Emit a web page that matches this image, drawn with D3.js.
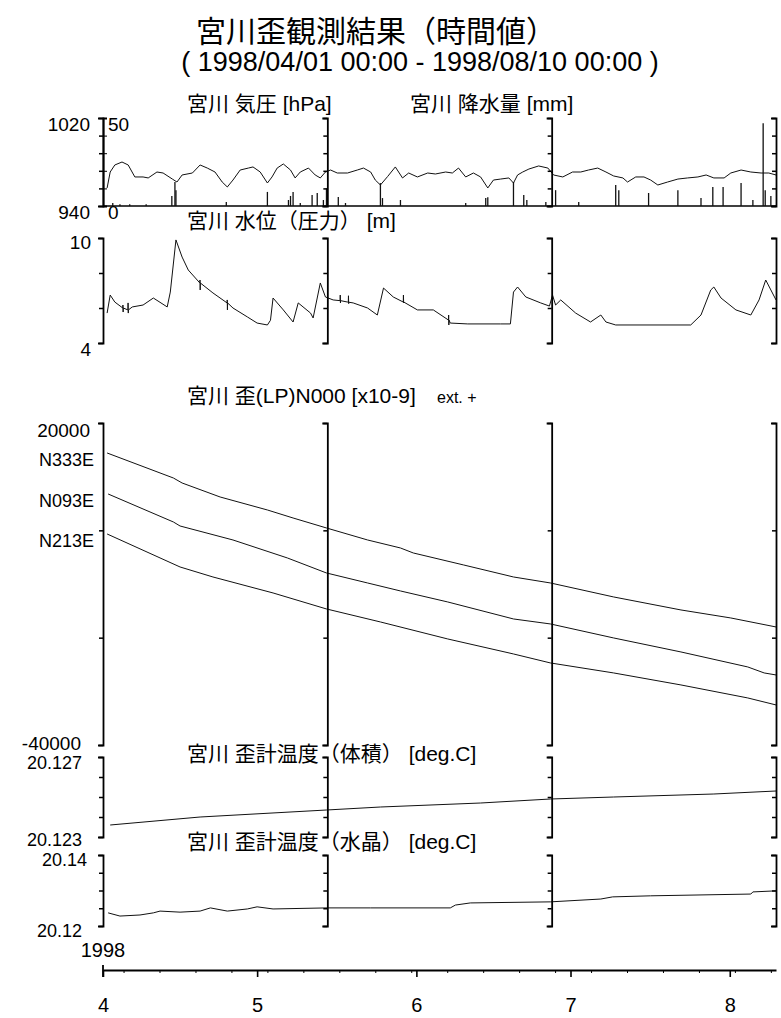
<!DOCTYPE html>
<html>
<head>
<meta charset="utf-8">
<script src="https://cdn.jsdelivr.net/npm/d3@7"></script>
<style>
  html, body { margin: 0; padding: 0; background: #fff; }
  svg { display: block; }
</style>
</head>
<body>
<svg id="chart" width="781" height="1018"></svg>
<script>
// ---- Observation data: [days since 1998-04-01 00:00, value] ----
const pressure = [[0.8,956.4],[1.4,970.9],[2.3,977.3],[3.7,980.0],[4.9,977.3],[6.2,966.4],[7.8,966.4],[8.8,965.5],[10.5,970.9],[11.7,970.0],[13.5,964.5],[14.4,961.8],[15.4,968.2],[17.4,970.0],[18.9,977.3],[20.3,974.5],[21.8,970.9],[23.2,961.8],[24.2,957.3],[25.3,963.6],[26.7,972.7],[28.3,974.5],[29.2,975.5],[30.6,970.9],[32.0,960.9],[32.9,966.4],[33.9,974.5],[35.1,978.2],[36.5,972.7],[37.4,965.5],[38.4,970.9],[40.0,974.5],[41.3,968.2],[42.3,965.5],[43.3,970.9],[44.3,972.7],[45.6,970.0],[47.6,970.0],[49.5,972.7],[50.7,974.5],[52.1,970.9],[53.0,963.6],[54.0,959.1],[55.4,966.8],[56.9,975.5],[58.3,965.5],[59.5,970.0],[61.2,966.4],[63.2,970.0],[64.7,969.1],[66.7,970.9],[68.0,970.0],[69.2,974.5],[70.6,966.4],[72.1,970.0],[73.5,966.4],[74.9,956.4],[76.0,963.6],[77.4,964.5],[79.0,965.5],[79.9,960.9],[80.7,968.2],[81.7,970.9],[82.9,973.6],[84.8,976.4],[86.6,974.5],[87.7,968.2],[89.5,966.4],[91.4,970.9],[93.0,970.9],[94.5,972.7],[96.3,974.5],[97.9,970.9],[99.4,967.3],[101.2,965.5],[102.1,961.8],[103.7,966.4],[105.3,966.4],[106.6,963.6],[108.0,959.1],[109.9,961.8],[111.9,964.5],[113.8,965.5],[115.8,966.4],[117.4,968.2],[118.9,965.5],[120.9,965.5],[122.2,970.0],[124.2,972.7],[126.1,970.9],[128.1,970.0],[129.6,970.0],[131.0,968.2]];

const precipitation = [[1.9,1.7],[3.3,1.0],[5.2,1.0],[8.4,1.0],[13.4,5.7],[14.0,13.6],[14.2,9.0],[24.0,2.3],[32.0,8.0],[36.1,3.4],[36.5,5.7],[37.0,8.0],[38.4,1.7],[40.7,6.3],[41.7,7.4],[42.9,3.4],[43.5,10.0],[45.8,5.1],[47.2,1.7],[54.0,13.0],[54.4,4.5],[57.9,3.4],[70.6,1.7],[74.5,4.5],[74.9,5.0],[79.9,13.6],[81.9,6.3],[82.5,3.4],[86.2,2.3],[88.1,9.0],[92.6,2.3],[99.8,12.0],[100.4,9.0],[106.2,7.4],[111.9,9.0],[116.4,4.5],[118.7,10.8],[120.7,10.8],[124.2,13.0],[126.5,3.4],[128.5,47.0],[128.9,9.0],[130.0,5.7]];

// includes the short one-hour jumps of the gauge record
const waterLevel = [[0.8,5.71],[1.4,6.74],[2.3,6.34],[3.85,6.0],[3.88,6.17],[3.92,5.77],[3.95,6.0],[4.85,5.89],[4.88,6.29],[4.92,5.71],[4.95,5.89],[5.7,6.06],[7.8,6.17],[9.8,6.57],[12.5,6.06],[13.1,6.91],[14.2,9.89],[15.4,8.91],[16.6,8.17],[18.85,7.43],[18.88,7.6],[18.92,7.03],[18.95,7.43],[21.4,6.86],[24.15,6.29],[24.18,6.46],[24.22,5.89],[24.25,6.29],[25.3,6.0],[28.1,5.49],[30.0,5.14],[32.0,5.03],[32.6,5.3],[33.1,6.57],[35.1,5.89],[37.0,5.2],[38.0,6.29],[40.4,5.71],[40.9,5.43],[42.3,7.43],[43.3,6.63],[44.8,6.46],[46.15,6.42],[46.18,6.74],[46.22,6.29],[46.25,6.42],[47.6,6.34],[47.75,6.33],[47.78,6.7],[47.82,6.25],[47.85,6.33],[48.7,6.29],[51.5,6.0],[53.4,5.6],[54.6,7.14],[56.5,6.63],[58.45,6.34],[58.48,6.74],[58.52,6.29],[58.55,6.34],[61.2,5.89],[64.3,5.89],[67.25,5.31],[67.28,5.6],[67.32,5.03],[67.35,5.31],[67.6,5.14],[71.0,5.09],[77.4,5.09],[79.3,5.09],[79.9,6.91],[80.7,7.2],[82.3,6.63],[85.2,6.29],[86.9,6.11],[87.5,6.74],[88.1,6.17],[89.1,6.46],[92.0,5.71],[94.9,5.2],[96.9,5.6],[97.9,5.2],[99.8,5.03],[114.4,5.03],[116.4,5.6],[118.3,7.03],[118.9,7.2],[120.3,6.57],[123.2,5.89],[126.1,5.6],[127.7,6.46],[129.0,7.6],[130.0,7.03],[131.0,6.46]];

const strainN333E = [[0.8,14411],[13.7,9753],[15.4,8821],[22.8,6214],[32.0,3792],[37.0,2301],[43.5,438],[51.5,-1797],[57.9,-3288],[60.4,-4219],[70.2,-6455],[79.9,-8690],[87.1,-9808],[99.4,-12416],[112.5,-14838],[122.2,-16329],[131.0,-18005]];
const strainN093E = [[1.0,6773],[13.7,1556],[15.0,810],[25.3,-1797],[35.9,-5151],[43.5,-7945],[51.5,-9808],[57.9,-11298],[67.1,-13348],[79.9,-16515],[87.1,-17446],[99.4,-20055],[112.5,-22663],[125.5,-25457],[128.7,-26575],[131.0,-26948]];
const strainN213E = [[0.8,-679],[15.0,-6827],[21.4,-8690],[33.1,-11671],[43.5,-14652],[54.0,-17074],[67.1,-20241],[79.9,-23035],[87.1,-24712],[99.4,-26575],[112.5,-28811],[125.5,-31233],[131.0,-32537]];
const strainNames = ["N333E", "N093E", "N213E"];

const tempVolume = [[1.4,20.1236],[18.9,20.1240],[43.5,20.12435],[54.0,20.1245],[73.5,20.1247],[87.1,20.1249],[99.4,20.1250],[118.9,20.12515],[131.0,20.1253]];
const tempQuartz = [[1.0,20.1237],[3.3,20.1228],[7.2,20.1231],[9.8,20.1237],[11.1,20.1242],[15.0,20.1239],[18.9,20.1242],[20.9,20.1251],[24.2,20.1242],[28.1,20.1248],[30.0,20.1254],[33.1,20.1248],[43.7,20.1251],[52.1,20.1251],[67.6,20.1251],[68.6,20.1259],[71.5,20.1265],[87.1,20.1268],[96.9,20.1276],[99.2,20.1282],[106.6,20.1285],[126.1,20.1290],[126.5,20.1296],[131.0,20.1299]];

// ---- Axis ranges, ticks and labels ----
const pressureDomain = [940, 1020], pressureLabels = ["940", "1020"];
const precipDomain = [0, 50], precipTicks = [0, 10, 20, 30, 40, 50], precipLabels = ["0", "50"];
const waterDomain = [4, 10], waterTicks = [4, 6, 8, 10], waterLabels = ["4", "10"];
const strainDomain = [-40000, 20000], strainTicks = [-40000, -20000, 0, 20000], strainLabels = ["-40000", "20000"];
const tempVolDomain = [20.123, 20.127], tempVolTicks = [20.123, 20.124, 20.125, 20.126, 20.127], tempVolLabels = ["20.123", "20.127"];
const tempQzDomain = [20.12, 20.14], tempQzTicks = [20.12, 20.125, 20.13, 20.135, 20.14], tempQzLabels = ["20.12", "20.14"];
const monthLabels = ["4", "5", "6", "7", "8"];
const yearLabel = "1998";

const titleText = "宮川歪観測結果（時間値）";
const periodText = "( 1998/04/01 00:00 - 1998/08/10 00:00 )";
const panelTitles = {
  pressure: "宮川 気圧 [hPa]",
  precip: "宮川 降水量 [mm]",
  water: "宮川 水位（圧力） [m]",
  strain: "宮川 歪(LP)N000 [x10-9]",
  strainNote: "ext. +",
  tempVol: "宮川 歪計温度（体積） [deg.C]",
  tempQz: "宮川 歪計温度（水晶） [deg.C]"
};

// ---- Layout ----
const FONT = '"Liberation Sans","Noto Sans CJK JP",sans-serif';
const START = Date.UTC(1998, 3, 1);
const DAYS = 131;
const toDate = d => new Date(START + d * 864e5);

const svg = d3.select("#chart").style("font-family", FONT);
svg.append("rect").attr("width", 781).attr("height", 1018).attr("fill", "#fff");

const x = d3.scaleUtc().domain([toDate(0), toDate(DAYS)]).range([103, 776]);
// the record is printed as three equal sheets, each with its own bracket axis
const sheetEdges = d3.range(4).map(i => toDate(DAYS * i / 3));

const yPressure = d3.scaleLinear().domain(pressureDomain).range([206, 118]);
const yPrecip = d3.scaleLinear().domain(precipDomain).range([206, 118]);
const yWater = d3.scaleLinear().domain(waterDomain).range([343, 238]);
const yStrain = d3.scaleLinear().domain(strainDomain).range([745, 423]);
const yTempVol = d3.scaleLinear().domain(tempVolDomain).range([837, 757]);
const yTempQz = d3.scaleLinear().domain(tempQzDomain).range([926, 855]);

function bracketAxes(scale, ticks) {
  sheetEdges.forEach(d => {
    svg.append("g")
      .attr("transform", `translate(${x(d)},0)`)
      .call(d3.axisLeft(scale).tickValues(ticks).tickSize(4).tickSizeOuter(5).tickFormat(""))
      .call(g => g.select(".domain").attr("stroke-width", 1.8))
      .call(g => g.selectAll(".tick line").attr("stroke-width", 1.5));
  });
}

// end labels of a left axis: [bottom, top], each with its right edge and baseline offset
function edgeLabels(scale, labels, rightX, size, offsets) {
  const dom = scale.domain();
  [0, 1].forEach(i => {
    svg.append("text")
      .attr("x", rightX[i])
      .attr("y", scale(dom[i]) + offsets[i])
      .attr("text-anchor", "end")
      .attr("font-size", size)
      .text(labels[i]);
  });
}

function trace(data, scale, width) {
  svg.append("path")
    .datum(data)
    .attr("fill", "none")
    .attr("stroke", "#111")
    .attr("stroke-width", width || 1)
    .attr("stroke-linejoin", "round")
    .attr("d", d3.line().x(d => x(toDate(d[0]))).y(d => scale(d[1])));
}

function panelTitle(text, px, py, size) {
  return svg.append("text").attr("x", px).attr("y", py).attr("font-size", size || 21).text(text);
}

// ---- Titles ----
svg.append("text").attr("x", 376).attr("y", 42).attr("text-anchor", "middle")
  .attr("font-size", 30).text(titleText);
svg.append("text").attr("x", 420).attr("y", 71).attr("text-anchor", "middle")
  .attr("font-size", 27).text(periodText);

// ---- Pressure and precipitation ----
panelTitle(panelTitles.pressure, 187, 111);
panelTitle(panelTitles.precip, 410, 111);
svg.append("line").attr("x1", x(toDate(0))).attr("x2", x(toDate(DAYS)))
  .attr("y1", yPrecip(0)).attr("y2", yPrecip(0)).attr("stroke", "#000").attr("stroke-width", 1.3);
svg.append("g").selectAll("line").data(precipitation).join("line")
  .attr("x1", d => x(toDate(d[0]))).attr("x2", d => x(toDate(d[0])))
  .attr("y1", yPrecip(0)).attr("y2", d => yPrecip(d[1]))
  .attr("stroke", "#111").attr("stroke-width", 1.3);
trace(pressure, yPressure);
bracketAxes(yPrecip, precipTicks);
svg.append("g").attr("transform", `translate(${x(toDate(0))},0)`)
  .call(d3.axisRight(yPrecip).tickValues(precipTicks).tickSize(4).tickSizeOuter(4).tickFormat(""))
  .call(g => g.select(".domain").attr("stroke-width", 1.8));
edgeLabels(yPressure, pressureLabels, [90, 90], 19, [13, 13]);
[0, 1].forEach(i => {
  svg.append("text").attr("x", 108).attr("y", yPrecip(precipDomain[i]) + 13)
    .attr("font-size", 19).text(precipLabels[i]);
});

// ---- Water level ----
panelTitle(panelTitles.water, 187, 228);
trace(waterLevel, yWater);
bracketAxes(yWater, waterTicks);
edgeLabels(yWater, waterLabels, [91, 91], 19, [13, 11]);

// ---- Strain ----
panelTitle(panelTitles.strain, 187, 403);
svg.append("text").attr("x", 437).attr("y", 403).attr("font-size", 16).text(panelTitles.strainNote);
[strainN333E, strainN093E, strainN213E].forEach((s, i) => {
  trace(s, yStrain);
  svg.append("text").attr("x", 94).attr("y", yStrain(s[0][1]) + 13)
    .attr("text-anchor", "end").attr("font-size", 18)
    .text(strainNames[i]);
});
bracketAxes(yStrain, strainTicks);
edgeLabels(yStrain, strainLabels, [81, 90], 19, [5, 14]);

// ---- Strain meter temperatures ----
panelTitle(panelTitles.tempVol, 187, 761);
trace(tempVolume, yTempVol);
bracketAxes(yTempVol, tempVolTicks);
edgeLabels(yTempVol, tempVolLabels, [82, 82], 18, [9, 12]);

panelTitle(panelTitles.tempQz, 187, 849);
trace(tempQuartz, yTempQz);
bracketAxes(yTempQz, tempQzTicks);
edgeLabels(yTempQz, tempQzLabels, [82, 87], 18, [11, 11]);

// ---- Time axis ----
const axisY = 970;
svg.append("g").attr("transform", `translate(0,${axisY})`)
  .call(d3.axisBottom(x).tickValues(d3.utcSunday.range(toDate(0), toDate(DAYS))).tickSize(3).tickSizeOuter(0).tickFormat(""))
  .call(g => g.select(".domain").attr("stroke-width", 2));
const months = d3.utcMonth.range(toDate(0), toDate(DAYS));
svg.append("g").attr("transform", `translate(0,${axisY})`)
  .call(d3.axisBottom(x).tickValues(months).tickSize(7).tickPadding(21).tickFormat((d, i) => monthLabels[i]))
  .call(g => g.select(".domain").remove())
  .call(g => g.selectAll(".tick line").attr("stroke-width", 1.6))
  .call(g => g.selectAll("text").attr("font-size", 20).attr("font-family", FONT).attr("fill", "#000"));
svg.append("line").attr("x1", x(toDate(0))).attr("x2", x(toDate(0)))
  .attr("y1", axisY - 5).attr("y2", axisY + 7).attr("stroke", "#000").attr("stroke-width", 1.8);
svg.append("text").attr("x", x(toDate(0))).attr("y", 957).attr("text-anchor", "middle")
  .attr("font-size", 20).text(yearLabel);
</script>
</body>
</html>
